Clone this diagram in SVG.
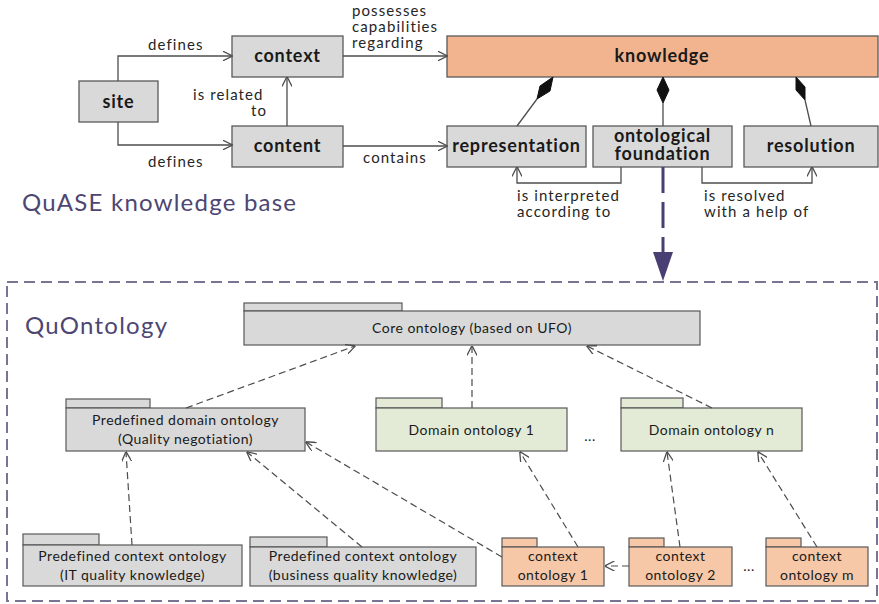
<svg xmlns="http://www.w3.org/2000/svg" width="879" height="604" viewBox="0 0 879 604">
  <style>
    .box { fill: #d9d9d9; stroke: #595959; stroke-width: 1.3; }
    .know { fill: #f2b48e; stroke: #595959; stroke-width: 1.3; }
    .green { fill: #e3ebd7; stroke: #595959; stroke-width: 1.2; }
    .peach { fill: #f7c8a8; stroke: #595959; stroke-width: 1.2; }
    .pkg { fill: #d9d9d9; stroke: #595959; stroke-width: 1.2; }
    .lbl { font-family: Lato, "Open Sans", sans-serif; font-weight: bold; font-size: 18px; letter-spacing: 0.8px; fill: #1a1a1a; text-anchor: middle; }
    .edge { font-family: Lato, "Open Sans", sans-serif; font-size: 15px; letter-spacing: 1.1px; fill: #262626; }
    .small { font-family: Lato, "Open Sans", sans-serif; font-size: 14px; letter-spacing: 0.5px; fill: #1a1a1a; text-anchor: middle; }
    .title { font-family: Lato, "Open Sans", sans-serif; font-size: 24px; fill: #4d4672; }
    .solid { fill: none; stroke: #4d4d4d; stroke-width: 1.3; }
    .dash { fill: none; stroke: #4d4d4d; stroke-width: 1.2; stroke-dasharray: 7 4; }
  </style>
  <defs>
    <marker id="open" viewBox="0 0 10 10" refX="9.5" refY="5" markerWidth="10" markerHeight="10" markerUnits="userSpaceOnUse" orient="auto">
      <path d="M0,0 L10,5 L0,10" fill="none" stroke="#4d4d4d" stroke-width="1.3"/>
    </marker>
  </defs>

  <rect width="879" height="604" fill="#ffffff"/>

  <!-- upper part: knowledge base -->
  <text class="title" x="22" y="211" textLength="274">QuASE knowledge base</text>

  <g id="site"><rect class="box" x="79" y="81" width="79" height="41"/><text class="lbl" x="118.5" y="108">site</text></g>
  <g id="context"><rect class="box" x="232" y="36" width="111" height="41"/><text class="lbl" x="287.5" y="62">context</text></g>
  <g id="content"><rect class="box" x="232" y="126" width="111" height="41"/><text class="lbl" x="287.5" y="152">content</text></g>
  <g id="knowledge"><rect class="know" x="447" y="36" width="431" height="41"/><text class="lbl" x="662" y="62">knowledge</text></g>
  <g id="representation"><rect class="box" x="447" y="126" width="139" height="41"/><text class="lbl" x="516.5" y="152">representation</text></g>
  <g id="foundation"><rect class="box" x="593" y="126" width="139" height="41"/><text class="lbl" x="662.5" y="142">ontological</text><text class="lbl" x="662.5" y="160">foundation</text></g>
  <g id="resolution"><rect class="box" x="744" y="126" width="134" height="41"/><text class="lbl" x="811" y="152">resolution</text></g>

  <g id="connectors">
    <path class="solid" d="M118,81 V56 H232" marker-end="url(#open)"/>
    <path class="solid" d="M118,122 V145 H232" marker-end="url(#open)"/>
    <path class="solid" d="M287,126 V77" marker-end="url(#open)"/>
    <path class="solid" d="M343,56 H447" marker-end="url(#open)"/>
    <path class="solid" d="M343,146 H447" marker-end="url(#open)"/>
    <path class="solid" d="M621,167 V183 H517 V167" marker-end="url(#open)"/>
    <path class="solid" d="M702,167 V183 H812 V167" marker-end="url(#open)"/>
    <!-- composition links -->
    <path class="solid" d="M517,126 L537,99"/>
    <polygon points="553,77 550,91 537,99 540,86" fill="#111" stroke="#111" stroke-width="1"/>
    <path class="solid" d="M663,126 V103"/>
    <polygon points="663,77 669,90 663,103 657,90" fill="#111" stroke="#111" stroke-width="1"/>
    <path class="solid" d="M811,126 L805,100"/>
    <polygon points="796,77 805,87 805,100 796,90" fill="#111" stroke="#111" stroke-width="1"/>
    <!-- refinement into the ontology package -->
    <path d="M663,167 V252" fill="none" stroke="#4a3f73" stroke-width="3" stroke-dasharray="26 9"/>
    <polygon points="653,252 673,252 663,281" fill="#4a3f73"/>
  </g>

  <text class="edge" x="148" y="50">defines</text>
  <text class="edge" x="148" y="167">defines</text>
  <text class="edge" x="193" y="100">is related</text>
  <text class="edge" x="267" y="116" text-anchor="end">to</text>
  <text class="edge" x="352" y="16">possesses</text>
  <text class="edge" x="352" y="32">capabilities</text>
  <text class="edge" x="352" y="48">regarding</text>
  <text class="edge" x="363" y="163">contains</text>
  <text class="edge" x="517" y="201">is interpreted</text>
  <text class="edge" x="517" y="217">according to</text>
  <text class="edge" x="704" y="201">is resolved</text>
  <text class="edge" x="704" y="217">with a help of</text>

  <!-- lower part: QuOntology package -->
  <rect x="7" y="282" width="870" height="319" fill="none" stroke="#7a7393" stroke-width="2" stroke-dasharray="11 6"/>
  <text class="title" x="25" y="334" font-size="22" textLength="142">QuOntology</text>

  <g id="core">
    <rect class="pkg" x="244" y="303" width="158" height="8"/>
    <rect class="pkg" x="244" y="311" width="456" height="34"/>
    <text class="small" x="472" y="333">Core ontology (based on UFO)</text>
  </g>
  <g id="predef-domain">
    <rect class="pkg" x="66" y="399" width="84" height="9"/>
    <rect class="pkg" x="66" y="408" width="239" height="43"/>
    <text class="small" x="185.5" y="425">Predefined domain ontology</text>
    <text class="small" x="185.5" y="444">(Quality negotiation)</text>
  </g>
  <g id="domain-1">
    <rect class="green" x="376" y="398" width="66" height="10"/>
    <rect class="green" x="376" y="408" width="191" height="43"/>
    <text class="small" x="471.5" y="435">Domain ontology 1</text>
  </g>
  <text class="small" x="590" y="441">...</text>
  <g id="domain-n">
    <rect class="green" x="621" y="398" width="62" height="10"/>
    <rect class="green" x="621" y="408" width="181" height="43"/>
    <text class="small" x="711.5" y="435">Domain ontology n</text>
  </g>
  <g id="predef-it">
    <rect class="pkg" x="23" y="534" width="76" height="11"/>
    <rect class="pkg" x="23" y="545" width="219" height="41"/>
    <text class="small" x="132.5" y="561">Predefined context ontology</text>
    <text class="small" x="132.5" y="580">(IT quality knowledge)</text>
  </g>
  <g id="predef-business">
    <rect class="pkg" x="250" y="537" width="77" height="10"/>
    <rect class="pkg" x="250" y="547" width="226" height="39"/>
    <text class="small" x="363" y="561">Predefined context ontology</text>
    <text class="small" x="363" y="580">(business quality knowledge)</text>
  </g>
  <g id="context-1">
    <rect class="peach" x="502" y="538" width="35" height="9"/>
    <rect class="peach" x="502" y="547" width="102" height="39"/>
    <text class="small" x="553" y="561">context</text>
    <text class="small" x="553" y="580">ontology 1</text>
  </g>
  <g id="context-2">
    <rect class="peach" x="629" y="538" width="35" height="9"/>
    <rect class="peach" x="629" y="547" width="103" height="39"/>
    <text class="small" x="680.5" y="561">context</text>
    <text class="small" x="680.5" y="580">ontology 2</text>
  </g>
  <text class="small" x="749" y="571">...</text>
  <g id="context-m">
    <rect class="peach" x="766" y="538" width="35" height="9"/>
    <rect class="peach" x="766" y="547" width="102" height="39"/>
    <text class="small" x="817" y="561">context</text>
    <text class="small" x="817" y="580">ontology m</text>
  </g>

  <g id="dependencies">
    <path class="dash" d="M186,408 L355,346" marker-end="url(#open)"/>
    <path class="dash" d="M472,408 V346" marker-end="url(#open)"/>
    <path class="dash" d="M712,408 L587,346" marker-end="url(#open)"/>
    <path class="dash" d="M132,545 L126,452" marker-end="url(#open)"/>
    <path class="dash" d="M362,547 L247,452" marker-end="url(#open)"/>
    <path class="dash" d="M502,557 L306,442" marker-end="url(#open)"/>
    <path class="dash" d="M578,547 L520,452" marker-end="url(#open)"/>
    <path class="dash" d="M680,547 L667,452" marker-end="url(#open)"/>
    <path class="dash" d="M817,547 L758,452" marker-end="url(#open)"/>
    <path class="dash" d="M629,566 H605" marker-end="url(#open)"/>
  </g>
</svg>
